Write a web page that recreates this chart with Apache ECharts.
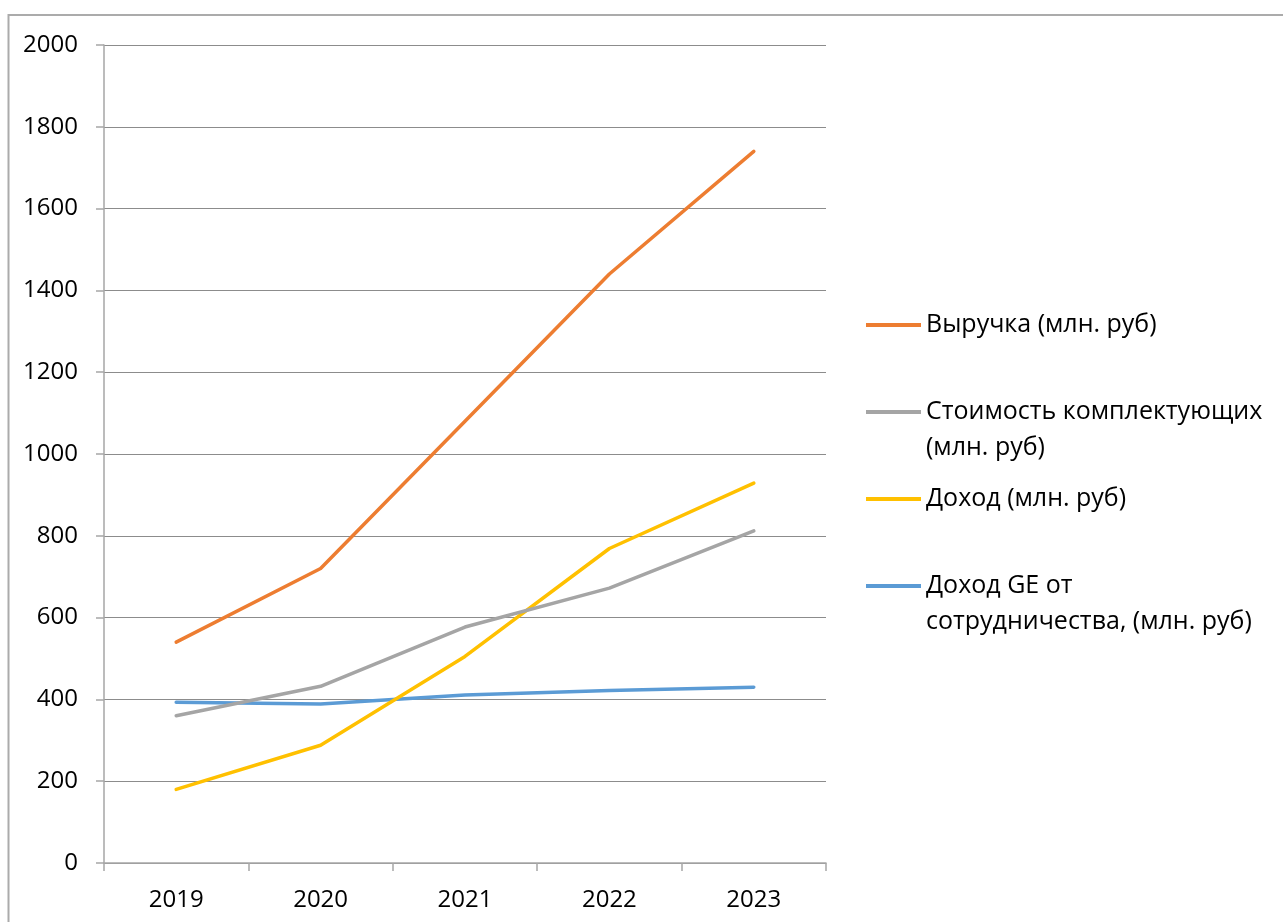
<!DOCTYPE html>
<html>
<head>
<meta charset="utf-8">
<script src="https://cdn.jsdelivr.net/npm/echarts@6/dist/echarts.min.js"></script>
<style>
  html, body { margin: 0; padding: 0; background: #fff; }
  #chart { width: 1283px; height: 922px; }
</style>
</head>
<body>
<div id="chart"></div>
<script>
// Years on the category axis
const years = ['2019', '2020', '2021', '2022', '2023'];

// Series values, млн. руб
const revenue = [540, 720, 1080, 1440, 1740];
const componentsCost = [360, 432, 577, 672, 812];
const income = [180, 288, 505, 769, 929];
const geIncome = [393, 389, 411, 422, 430];

// Series names as shown in the legend
const names = [
  'Выручка (млн. руб)',
  'Стоимость комплектующих\n(млн. руб)',
  'Доход (млн. руб)',
  'Доход GE от\nсотрудничества, (млн. руб)'
];
const colors = ['#ED7D31', '#A5A5A5', '#FFC000', '#5B9BD5'];
const valuesList = [revenue, componentsCost, income, geIncome];

const font = '"Open Sans", "Liberation Sans", sans-serif';

const chart = echarts.init(document.getElementById('chart'), null, { renderer: 'canvas' });

chart.setOption({
  animation: false,
  backgroundColor: '#ffffff',
  textStyle: { fontFamily: font },
  graphic: [{
    type: 'rect',
    shape: { x: 8.5, y: 15, width: 1400, height: 1000 },
    style: { fill: 'none', stroke: '#ABABAB', lineWidth: 2 },
    silent: true
  }],
  grid: { left: 104, right: 457, top: 45, bottom: 59, containLabel: false },
  legend: {
    orient: 'vertical',
    left: 866,
    top: 307,
    padding: 0,
    itemWidth: 55,
    itemHeight: 4,
    itemGap: 15,
    icon: 'rect',
    selectedMode: false,
    // two-line names get a blank line on top so the first line sits level with the marker
    formatter: (name) => (name.indexOf('\n') >= 0 ? '\n' + name : name),
    textStyle: { fontSize: 25, color: '#000', lineHeight: 36, fontFamily: font },
    data: names
  },
  xAxis: {
    type: 'category',
    data: years,
    boundaryGap: true,
    axisLine: { lineStyle: { color: '#A6A6A6', width: 1.5 } },
    axisTick: { show: true, length: 8, interval: 0, lineStyle: { color: '#A6A6A6', width: 1.5 } },
    axisLabel: { color: '#000', fontSize: 24, margin: 25, fontFamily: font },
    splitLine: { show: false }
  },
  yAxis: {
    type: 'value',
    min: 0,
    max: 2000,
    interval: 200,
    axisLine: { show: true, lineStyle: { color: '#A6A6A6', width: 1.5 } },
    axisTick: { show: true, length: 8, lineStyle: { color: '#A6A6A6', width: 1.5 } },
    axisLabel: { color: '#000', fontSize: 24, margin: 26, fontFamily: font, formatter: (v) => String(v) },
    splitLine: { show: true, lineStyle: { color: '#8C8C8C', width: 1 } }
  },
  series: valuesList.map((vals, i) => ({
    name: names[i],
    type: 'line',
    data: vals,
    symbol: 'none',
    smooth: false,
    lineStyle: { color: colors[i], width: 3.5, cap: 'round', join: 'round' },
    itemStyle: { color: colors[i] },
    z: 10 - i
  }))
});
</script>
</body>
</html>
